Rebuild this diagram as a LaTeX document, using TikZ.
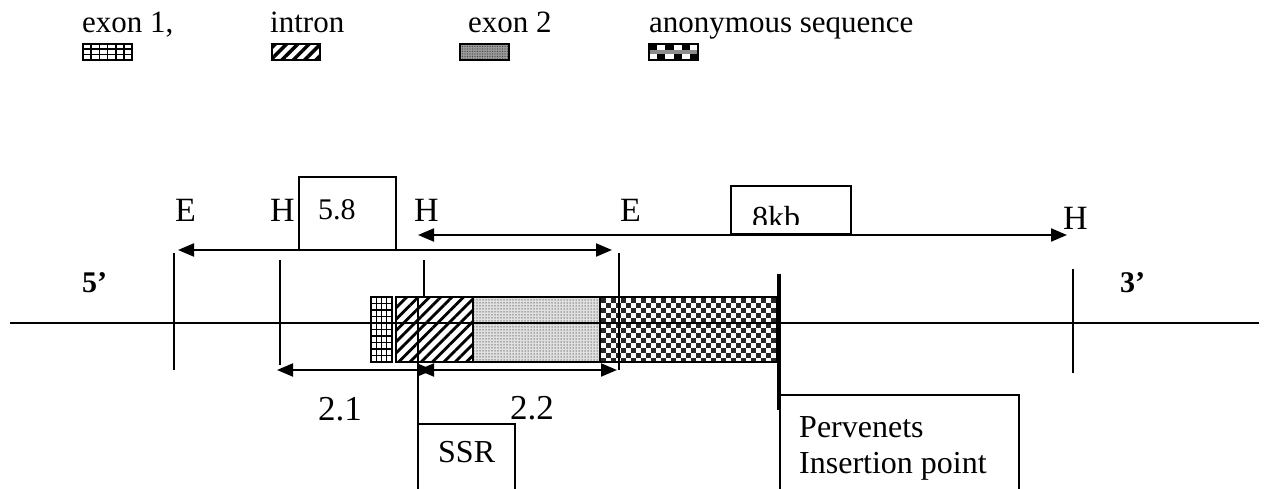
\documentclass[tikz,border=0pt]{standalone}
\usepackage{fontspec}
\setmainfont{Liberation Serif}
\usetikzlibrary{arrows.meta,patterns.meta}
\tikzset{
  lbl/.style={inner sep=0pt, anchor=base west, font=\fontsize{34}{40}\selectfont},
  leg/.style={inner sep=0pt, anchor=base west, font=\fontsize{31}{36}\selectfont},
  txt/.style={inner sep=0pt, anchor=base west, font=\fontsize{32}{38}\selectfont},
  endlbl/.style={inner sep=0pt, anchor=base west, font=\fontsize{30}{34}\selectfont\bfseries},
  tick/.style={line width=1.4pt},
  boxline/.style={line width=1.4pt},
  dimline/.style={line width=2pt, {Triangle[length=16pt,width=13pt]}-{Triangle[length=16pt,width=13pt]}},
  stripes/.style={pattern={Lines[angle=45,distance=8pt,line width=2.8pt]}, pattern color=black},
  dotsfill/.style={fill=black!12, postaction={pattern={Dots[distance=3pt,radius=0.75pt]}, pattern color=black!55}},
}
\begin{document}
\begin{tikzpicture}[x=1pt,y=-1pt]
\useasboundingbox (0,0) rectangle (1264,489);

% ---------- legend ----------
\node[leg] (lg1) at (82,33) {exon 1,};
\node[leg] (lg2) at (270,33) {intron};
\node[leg] (lg3) at (468,33) {exon 2};
\node[leg] (lg4) at (649,33) {anonymous sequence};

% exon 1 legend (grid)
\fill[white] (83,44) rectangle (132,60);
\foreach \x in {91.2,99.4,107.6,115.8,124} \draw[line width=1.6pt] (\x,44) -- (\x,60);
\foreach \y in {49.3,54.7} \draw[line width=1.6pt] (83,\y) -- (132,\y);
\draw[boxline] (83,44) rectangle (132,60);
% intron legend (stripes)
\path[pattern={Lines[angle=45,distance=8pt,line width=3.5pt]}] (272,44) rectangle (320,60);
\draw[boxline] (272,44) rectangle (320,60);
% exon 2 legend
\path[fill=black!40, postaction={pattern={Dots[distance=2.5pt,radius=0.7pt]}, pattern color=black!75}] (460,44) rectangle (509,60);
\draw[boxline] (460,44) rectangle (509,60);
% anonymous legend
\begin{scope}
\clip (649,44) rectangle (698,60);
\fill[white] (649,44) rectangle (698,60);
\foreach \i in {0,...,5}{\foreach \j in {0,1}{
  \pgfmathtruncatemacro\ckpar{mod(\i+\j,2)}
  \ifnum\ckpar=0 \fill[black] ({649+8.2*\i},{44+8*\j}) rectangle ++(8.2,8); \fi}}
\fill[black!45] (649,50) rectangle (698,54);
\end{scope}
\draw[boxline] (649,44) rectangle (698,60);

% ---------- gene block ----------
% exon 1
\fill[white] (371,297) rectangle (392,362);
\foreach \x in {376.25,381.5,386.75} \draw[line width=1.3pt] (\x,297) -- (\x,362);
\foreach \k in {1,...,9} \draw[line width=1.3pt] (371,{297+6.5*\k}) -- (392,{297+6.5*\k});
\draw[boxline] (371,297) rectangle (392,362);
% intron
\path[stripes] (396,297) rectangle (473,362);
% exon 2
\path[dotsfill] (473,297) rectangle (600,362);
% anonymous sequence (checkerboard)
\begin{scope}
\clip (600,297) rectangle (777,362);
\fill[white] (600,297) rectangle (777,362);
\foreach \i in {0,...,35}{\foreach \j in {0,...,12}{
  \pgfmathtruncatemacro\ckpar{mod(\i+\j,2)}
  \ifnum\ckpar=0 \fill[black!85] ({600.5+5*\i},{297.5+5*\j}) rectangle ++(5,5); \fi}}
\end{scope}
\draw[boxline] (396,297) rectangle (777,362);
\draw[boxline] (473,297) -- (473,362);
\draw[boxline] (600,297) -- (600,362);

% ---------- main line and ticks ----------
\coordinate (L0) at (10,323);
\coordinate (L1) at (1259,323);
\draw[line width=1.5pt] (L0) -- (L1);

\coordinate (tE1a) at (174,253); \coordinate (tE1b) at (174,370);
\coordinate (tH1a) at (280,260); \coordinate (tH1b) at (280,365);
\coordinate (tH2a) at (424,260); \coordinate (tH2b) at (424,297);
\coordinate (tE2a) at (619,253); \coordinate (tE2b) at (619,370);
\coordinate (tH3a) at (1073,269); \coordinate (tH3b) at (1073,373);
\draw[tick] (tE1a) -- (tE1b);
\draw[tick] (tH1a) -- (tH1b);
\draw[tick] (tH2a) -- (tH2b);
\draw[tick] (tE2a) -- (tE2b);
\draw[tick] (tH3a) -- (tH3b);

% insertion bar
\coordinate (ba) at (779,274); \coordinate (bb) at (779,410);
\draw[line width=4.5pt] (ba) -- (bb);

% ---------- labelled boxes ----------
\draw[boxline] (299,177) rectangle (396,250);
\node[txt, font=\fontsize{30}{36}\selectfont] (t58) at (318,220) {5.8};

\draw[boxline] (731,186) rectangle (851,234);
\begin{scope}
\clip (733,188) rectangle (849,224.5);
\node[txt] (t8kb) at (752,229) {8kb};
\end{scope}

% SSR box (open at the bottom)
\draw[boxline] (418,297) -- (418,489) (418,424) -- (515,424) -- (515,489);
\node[txt] (tssr) at (438,462) {SSR};

% Pervenets box (open at the bottom)
\draw[boxline] (780,489) -- (780,395) -- (1019,395) -- (1019,489);
\node[txt] (tperv) at (799,437) {Pervenets};
\node[txt] (tins) at (799,473) {Insertion point};

% ---------- dimension arrows ----------
\coordinate (a1) at (178,250); \coordinate (a2) at (612,250);
\coordinate (b1) at (418,235); \coordinate (b2) at (1067,235);
\coordinate (c1) at (277,370); \coordinate (c2) at (433,370);
\coordinate (d1) at (418,370); \coordinate (d2) at (617,370);
\draw[dimline] (a1) -- (a2);
\draw[dimline] (b1) -- (b2);
\draw[dimline] (c1) -- (c2);
\draw[dimline] (d1) -- (d2);

% ---------- site labels ----------
\node[lbl] (E1) at (175,222) {E};
\node[lbl] (H1) at (270,222) {H};
\node[lbl] (H2) at (414,222) {H};
\node[lbl] (E2) at (620,222) {E};
\node[lbl] (H3) at (1063,230) {H};

\node[lbl, font=\fontsize{35}{40}\selectfont] (n21) at (318,420) {2.1};
\node[lbl, font=\fontsize{35}{40}\selectfont] (n22) at (510,419) {2.2};

\node[endlbl] (five) at (82,292) {5’};
\node[endlbl] (three) at (1120,292) {3’};
\end{tikzpicture}
\end{document}
